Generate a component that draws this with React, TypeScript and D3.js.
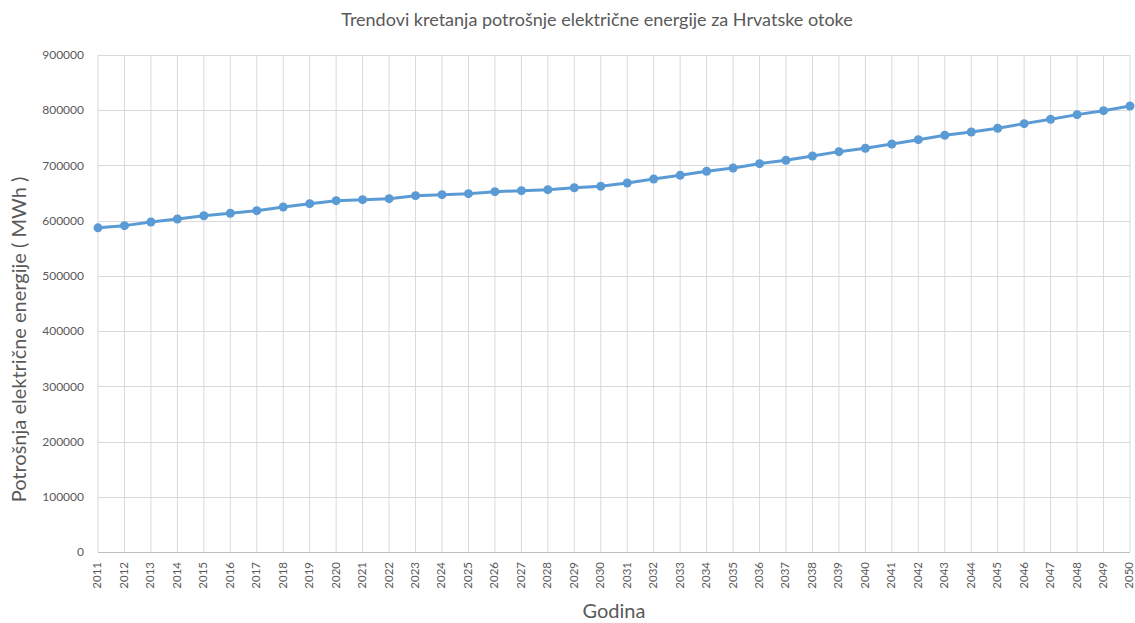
import React, { useEffect, useRef } from 'react';
import * as d3 from 'd3';

const years = d3.range(2011, 2051).map(String);
const consumption = [
  587000, 591000, 597500, 603000, 609000, 613400, 618100, 624800, 630800, 636200,
  638000, 639800, 645300, 647100, 648900, 652500, 654300, 656100, 659700, 662300,
  668300, 675500, 682200, 689400, 695400, 703200, 709400, 717200, 725000, 731100,
  738900, 746700, 754600, 760600, 767300, 775700, 783600, 792000, 799200, 807700,
];
const yTicks = [0, 100000, 200000, 300000, 400000, 500000, 600000, 700000, 800000, 900000];

const title = 'Trendovi kretanja potrošnje električne energije za Hrvatske otoke';
const yTitle = 'Potrošnja električne energije ( MWh )';
const xTitle = 'Godina';

const W = 1135;
const H = 623;

const App = () => {
  const svgRef = useRef<SVGSVGElement>(null);

  useEffect(() => {
    const svg = d3.select(svgRef.current);
    svg.selectAll('*').remove();

    const margin = { top: 55, right: 5, bottom: 71, left: 98 };
    const font = 'Lato, "Open Sans", sans-serif';

    const x = d3.scalePoint<string>()
      .domain(years)
      .range([margin.left, W - margin.right]);
    const y = d3.scaleLinear()
      .domain([0, 900000])
      .range([H - margin.bottom, margin.top]);

    // gridlines
    svg.append('g')
      .selectAll('line')
      .data(years)
      .join('line')
      .attr('x1', d => x(d)!)
      .attr('x2', d => x(d)!)
      .attr('y1', margin.top)
      .attr('y2', H - margin.bottom)
      .attr('stroke', '#d9d9d9')
      .attr('stroke-width', 1);

    svg.append('g')
      .selectAll('line')
      .data(yTicks)
      .join('line')
      .attr('x1', margin.left)
      .attr('x2', W - margin.right)
      .attr('y1', d => Math.round(y(d)) + 0.5)
      .attr('y2', d => Math.round(y(d)) + 0.5)
      .attr('stroke', d => (d === 0 ? '#bfbfbf' : '#d9d9d9'))
      .attr('stroke-width', 1);

    // y labels
    svg.append('g')
      .selectAll('text')
      .data(yTicks)
      .join('text')
      .attr('x', margin.left - 14)
      .attr('y', d => y(d))
      .attr('dy', '0.35em')
      .attr('text-anchor', 'end')
      .attr('font-family', font)
      .attr('font-size', 12)
      .attr('fill', '#595959')
      .text(d => String(d));

    // x labels
    svg.append('g')
      .selectAll('text')
      .data(years)
      .join('text')
      .attr('transform', d => `translate(${x(d)},${H - margin.bottom + 10}) rotate(-90)`)
      .attr('dy', '0.3em')
      .attr('text-anchor', 'end')
      .attr('font-family', font)
      .attr('font-size', 11.5)
      .attr('fill', '#595959')
      .text(d => d);

    // line
    const line = d3.line<number>()
      .x((_, i) => x(years[i])!)
      .y(d => y(d));

    svg.append('path')
      .datum(consumption)
      .attr('d', line)
      .attr('fill', 'none')
      .attr('stroke', '#5b9bd5')
      .attr('stroke-width', 3)
      .attr('stroke-linejoin', 'round');

    svg.append('g')
      .selectAll('circle')
      .data(consumption)
      .join('circle')
      .attr('cx', (_, i) => x(years[i])!)
      .attr('cy', d => y(d))
      .attr('r', 4.5)
      .attr('fill', '#5b9bd5');

    // titles
    svg.append('text')
      .attr('x', 597)
      .attr('y', 26)
      .attr('text-anchor', 'middle')
      .attr('font-family', font)
      .attr('font-size', 18)
      .attr('fill', '#595959')
      .text(title);

    svg.append('text')
      .attr('transform', `translate(26,${(margin.top + H - margin.bottom) / 2 + 36}) rotate(-90)`)
      .attr('text-anchor', 'middle')
      .attr('font-family', font)
      .attr('font-size', 20)
      .attr('fill', '#595959')
      .text(yTitle);

    svg.append('text')
      .attr('x', 614)
      .attr('y', 618)
      .attr('text-anchor', 'middle')
      .attr('font-family', font)
      .attr('font-size', 20)
      .attr('fill', '#595959')
      .text(xTitle);
  }, []);

  return (
    <svg
      ref={svgRef}
      width={W}
      height={H}
      style={{ position: 'absolute', left: 0, top: 0, background: '#fff' }}
    />
  );
};

export default App;
